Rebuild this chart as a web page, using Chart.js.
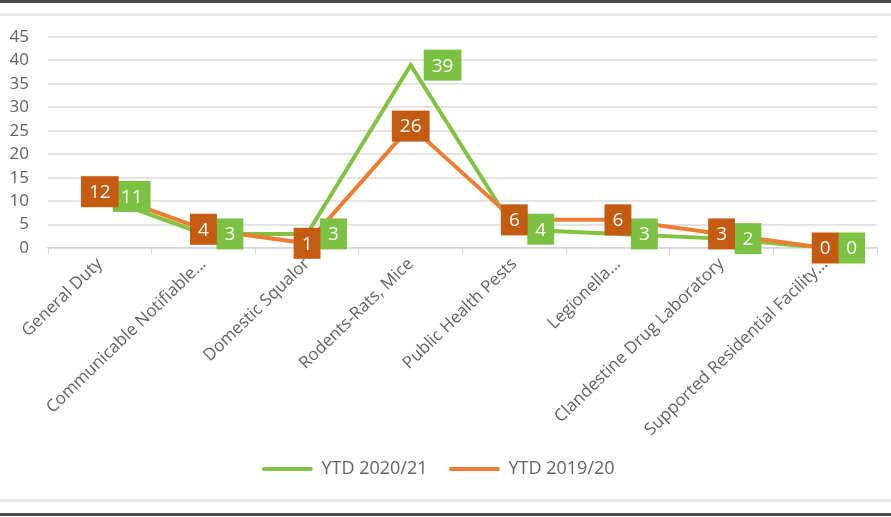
<!DOCTYPE html>
<html>
<head>
<meta charset="utf-8">
<title>Requests YTD</title>
<script src="https://cdn.jsdelivr.net/npm/chart.js@4.4.1/dist/chart.umd.min.js"></script>
<style>
  html, body { margin: 0; padding: 0; background: #fff; }
  #frame { position: relative; width: 891px; height: 517px; overflow: hidden; background: #fff; }
  #chartBox { position: absolute; left: 0; top: 0; width: 891px; height: 517px; }
  .rule { position: absolute; left: 0; width: 891px; }
  #topDark { top: 0; height: 3px; background: #4b4b4b; }
  #topLight { top: 13px; height: 3px; background: #e9ebeb; }
  #bottomLight { top: 499px; height: 3px; background: #e9ebeb; }
  #bottomDark { top: 513px; height: 3px; background: #4b4b4b; }
</style>
</head>
<body>
<div id="frame">
  <div id="chartBox"><canvas id="requestsChart"></canvas></div>
  <div class="rule" id="topDark"></div>
  <div class="rule" id="topLight"></div>
  <div class="rule" id="bottomLight"></div>
  <div class="rule" id="bottomDark"></div>
</div>
<script>
const categories = [
    'General Duty',
    'Communicable Notifiable...',
    'Domestic Squalor',
    'Rodents-Rats, Mice',
    'Public Health Pests',
    'Legionella...',
    'Clandestine Drug Laboratory',
    'Supported Residential Facility...'
];
const ytd2021 = [11, 3, 3, 39, 4, 3, 2, 0];
const ytd1920 = [12, 4, 1, 26, 6, 6, 3, 0];
const yMin = 0;
const yMax = 45;
const yStep = 5;

const greenLine = '#82c341';
const greenBox = '#7cc242';
const orangeLine = '#ed7d31';
const orangeBox = '#c55a11';
const axisText = '#636363';

Chart.defaults.font.family = "'Open Sans', sans-serif";

// value boxes: 2020/21 sits to the right of its point, 2019/20 is centred on it
const boxLabels = {
    id: 'boxLabels',
    afterDatasetsDraw(chart) {
        const ctx = chart.ctx;
        ctx.save();
        ctx.font = "19px 'Open Sans', sans-serif";
        ctx.textAlign = 'center';
        ctx.textBaseline = 'middle';
        chart.data.datasets.forEach((ds, di) => {
            const meta = chart.getDatasetMeta(di);
            meta.data.forEach((pt, i) => {
                const text = String(ds.data[i]);
                const w = ctx.measureText(text).width + 16;
                const h = 31;
                const left = ds.boxSide === 'right' ? pt.x + 13 : pt.x - w / 2;
                ctx.fillStyle = ds.boxColor;
                ctx.fillRect(left, pt.y - h / 2, w, h);
                ctx.fillStyle = '#ffffff';
                ctx.fillText(text, left + w / 2, pt.y + 1);
            });
        });
        ctx.restore();
    }
};

const ctx = document.getElementById('requestsChart').getContext('2d');
const chart = new Chart(ctx, {
    type: 'line',
    data: {
        labels: categories,
        datasets: [
            {
                label: 'YTD 2020/21',
                data: ytd2021,
                borderColor: greenLine,
                backgroundColor: greenLine,
                borderWidth: 4,
                pointRadius: 0,
                tension: 0,
                order: 1,
                boxColor: greenBox,
                boxSide: 'right'
            },
            {
                label: 'YTD 2019/20',
                data: ytd1920,
                borderColor: orangeLine,
                backgroundColor: orangeLine,
                borderWidth: 4,
                pointRadius: 0,
                tension: 0,
                order: 0,
                boxColor: orangeBox,
                boxSide: 'centre'
            }
        ]
    },
    options: {
        responsive: true,
        maintainAspectRatio: false,
        animation: false,
        layout: {
            padding: { top: 37, right: 14, left: 0, bottom: 29 }
        },
        plugins: {
            tooltip: { enabled: false },
            legend: {
                position: 'bottom',
                labels: {
                    boxWidth: 50,
                    boxHeight: 4,
                    padding: 22,
                    color: axisText,
                    font: { size: 18 },
                    generateLabels(chart) {
                        return chart.data.datasets.map((ds, i) => ({
                            text: ds.label,
                            fillStyle: ds.borderColor,
                            strokeStyle: ds.borderColor,
                            lineWidth: 0,
                            hidden: false,
                            datasetIndex: i,
                            fontColor: axisText
                        }));
                    }
                }
            }
        },
        scales: {
            x: {
                offset: true,
                grid: {
                    offset: true,
                    drawOnChartArea: false,
                    drawTicks: true,
                    tickLength: 6,
                    color: '#d6d6d6'
                },
                border: { display: true, color: '#d6d6d6', width: 1.5 },
                ticks: {
                    autoSkip: false,
                    minRotation: 44,
                    maxRotation: 44,
                    padding: 0,
                    color: axisText,
                    font: { size: 17 }
                },
                afterFit(axis) { axis.height = 190; }
            },
            y: {
                min: yMin,
                max: yMax,
                ticks: {
                    stepSize: yStep,
                    padding: 19,
                    color: axisText,
                    font: { size: 17 }
                },
                grid: { color: '#e4e4e4', lineWidth: 2, drawTicks: false },
                border: { display: false },
                afterFit(axis) { axis.width = 48; }
            }
        }
    },
    plugins: [boxLabels]
});
</script>
</body>
</html>
